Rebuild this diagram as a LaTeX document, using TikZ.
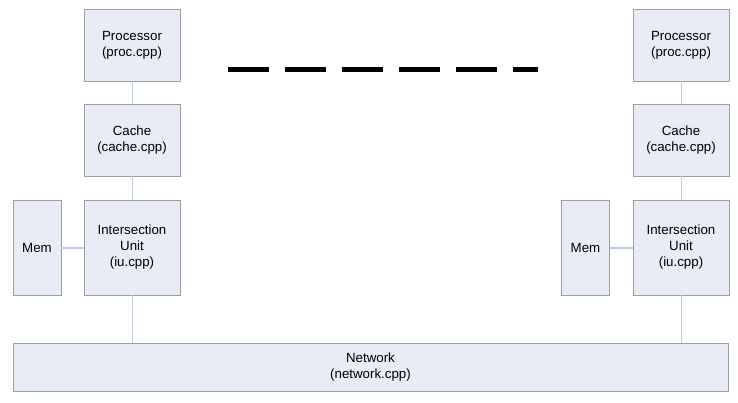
\documentclass[tikz,border=0pt]{standalone}
\usepackage{fontspec}
\setmainfont{Liberation Sans}
\usetikzlibrary{positioning}

\definecolor{boxfill}{HTML}{E8ECF7}
\definecolor{wire}{HTML}{BCCDE4}

\begin{document}
\begin{tikzpicture}[x=1pt, y=-1pt, font=\fontsize{13.3}{16}\selectfont,
  unit/.style={draw=gray!75, fill=boxfill, line width=0.9pt, align=center, inner sep=0pt,
    minimum width=96pt, minimum height=72pt},
  tallunit/.style={unit, minimum height=95pt},
  memunit/.style={unit, minimum width=48pt, minimum height=95pt},
  link/.style={wire, line width=1pt},
  memlink/.style={wire, line width=2pt}]

\useasboundingbox (0,0) rectangle (738,402);

% left node
\node[unit] (procA) at (132,45) {Processor\\(proc.cpp)};
\node[unit] (cacheA) at (132,140) {Cache\\(cache.cpp)};
\node[tallunit] (iuA) at (132,247.5) {Intersection\\Unit\\(iu.cpp)};
\node[memunit] (memA) at (37,247.5) {Mem};

% right node
\node[unit] (procB) at (681,45) {Processor\\(proc.cpp)};
\node[unit] (cacheB) at (681,140) {Cache\\(cache.cpp)};
\node[tallunit] (iuB) at (681,247.5) {Intersection\\Unit\\(iu.cpp)};
\node[memunit] (memB) at (585.5,247.5) {Mem};

% network
\node[unit, minimum width=715pt, minimum height=48pt] (net) at (370.5,367) {Network\\(network.cpp)};

\draw[link] (procA) -- (cacheA);
\draw[link] (cacheA) -- (iuA);
\draw[memlink] (memA) -- (iuA);
\draw[link] (iuA.south) -- (iuA.south |- net.north);

\draw[link] (procB) -- (cacheB);
\draw[link] (cacheB) -- (iuB);
\draw[memlink] (memB) -- (iuB);
\draw[link] (iuB.south) -- (iuB.south |- net.north);

% more nodes in between
\coordinate (dotsL) at (228,69);
\coordinate (dotsR) at (538,69);
\draw[line width=5pt, dash pattern=on 41pt off 16pt] (dotsL) -- (dotsR);

\end{tikzpicture}
\end{document}
